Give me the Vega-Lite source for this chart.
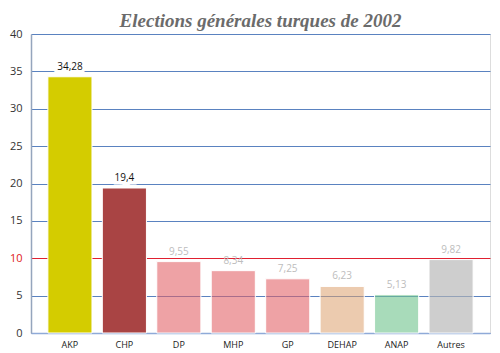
{
  "$schema": "https://vega.github.io/schema/vega-lite/v6.json",
  "width": 459,
  "height": 299,
  "autosize": "none",
  "padding": {"left": 31, "top": 34, "right": 10, "bottom": 20},
  "background": "white",
  "title": {
    "text": "Elections générales turques de 2002",
    "font": "Liberation Serif",
    "fontSize": 19,
    "fontStyle": "italic",
    "fontWeight": "bold",
    "color": "#6b6b6b",
    "anchor": "middle",
    "offset": -3
  },
  "data": {
    "values": [
      {"parti": "AKP", "pct": 34.28, "label": "34,28"},
      {"parti": "CHP", "pct": 19.4, "label": "19,4"},
      {"parti": "DP", "pct": 9.55, "label": "9,55"},
      {"parti": "MHP", "pct": 8.34, "label": "8,34"},
      {"parti": "GP", "pct": 7.25, "label": "7,25"},
      {"parti": "DEHAP", "pct": 6.23, "label": "6,23"},
      {"parti": "ANAP", "pct": 5.13, "label": "5,13"},
      {"parti": "Autres", "pct": 9.82, "label": "9,82"}
    ]
  },
  "encoding": {
    "x": {
      "field": "parti",
      "type": "nominal",
      "sort": null,
      "scale": {"paddingInner": 0.19, "paddingOuter": 0.31},
      "axis": {
        "title": null,
        "labelAngle": 0,
        "labelFont": "Open Sans",
        "labelFontSize": 9,
        "labelColor": "#222",
        "labelPadding": 7,
        "ticks": false,
        "domainColor": "#8faad8",
        "domainWidth": 1.5
      }
    },
    "y": {
      "field": "pct",
      "type": "quantitative",
      "scale": {"domain": [0, 40], "nice": false},
      "axis": {
        "title": null,
        "values": [0, 5, 10, 15, 20, 25, 30, 35, 40],
        "labelFont": "Open Sans",
        "labelFontSize": 11,
        "labelColor": {"condition": {"test": "datum.value === 10", "value": "#e02020"}, "value": "#333"},
        "labelPadding": 9,
        "ticks": false,
        "grid": true,
        "gridColor": {"condition": {"test": "datum.value === 10", "value": "#e02030"}, "value": "#5a82c0"},
        "gridWidth": 1.1,
        "domainColor": "#95a5bd",
        "domainWidth": 1.5
      }
    }
  },
  "layer": [
    {
      "mark": {"type": "bar", "stroke": "white", "strokeWidth": 1},
      "encoding": {
        "color": {
          "field": "parti",
          "type": "nominal",
          "legend": null,
          "scale": {
            "domain": ["AKP", "CHP", "DP", "MHP", "GP", "DEHAP", "ANAP", "Autres"],
            "range": ["#d4cc00", "#a94444", "rgba(225,95,100,0.58)", "rgba(225,95,100,0.58)", "rgba(225,95,100,0.58)", "rgba(220,160,110,0.55)", "rgba(110,195,140,0.6)", "rgba(180,180,180,0.65)"]
          }
        }
      }
    },
    {
      "transform": [{"filter": "datum.pct > 15"}],
      "mark": {"type": "text", "baseline": "bottom", "dy": -5, "font": "Open Sans", "fontSize": 10, "stroke": "white", "strokeWidth": 7, "fill": "white"},
      "encoding": {"text": {"field": "label"}}
    },
    {
      "mark": {"type": "text", "baseline": "bottom", "dy": -5, "font": "Open Sans", "fontSize": 10},
      "encoding": {
        "text": {"field": "label"},
        "color": {"condition": {"test": "datum.pct > 15", "value": "#111"}, "value": "#bdbdbd"}
      }
    }
  ]
}
